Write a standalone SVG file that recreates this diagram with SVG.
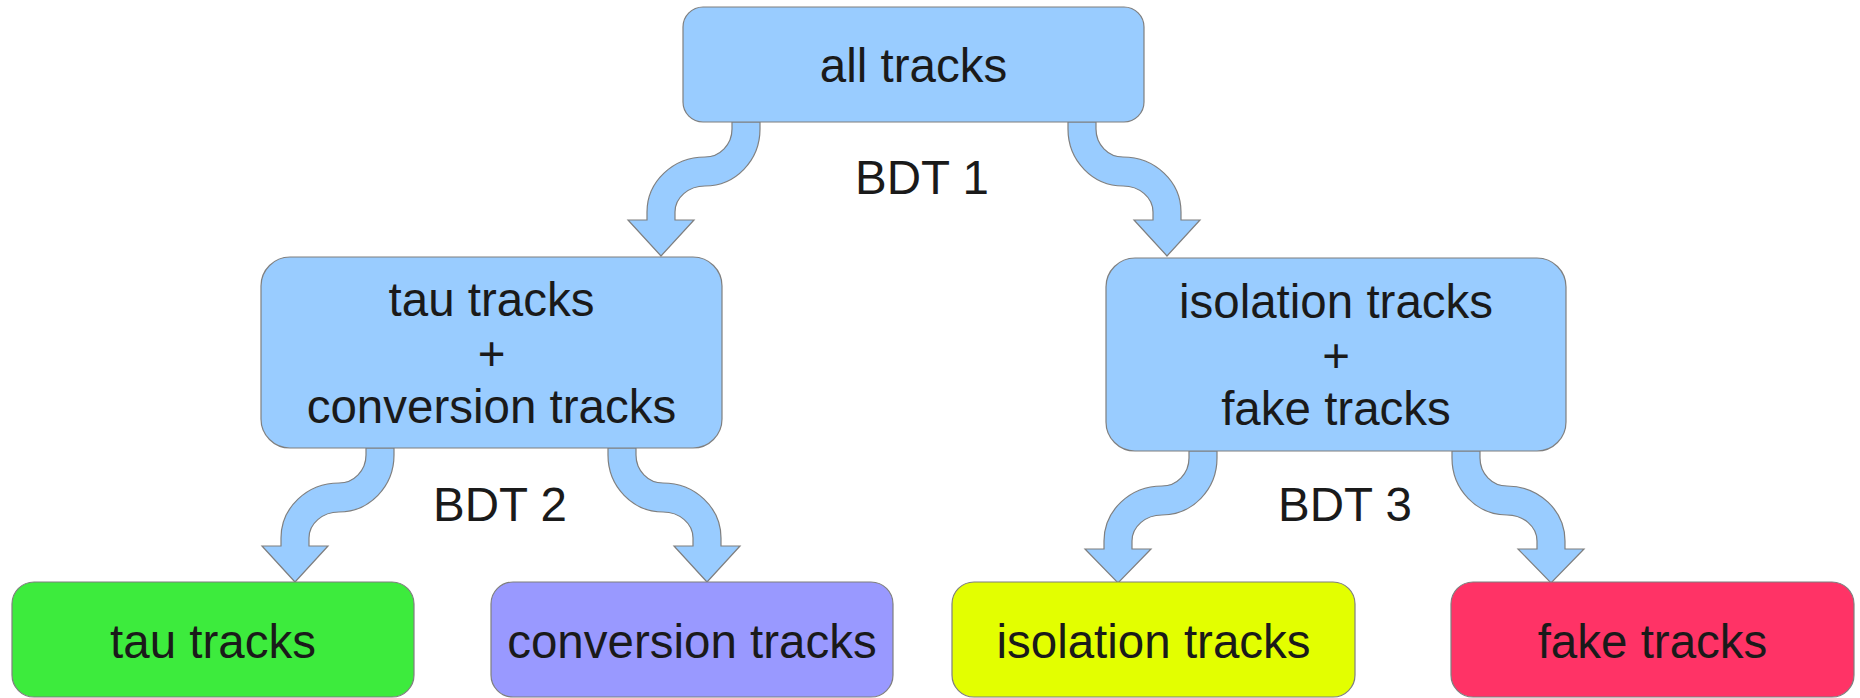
<svg xmlns="http://www.w3.org/2000/svg" width="1860" height="698" viewBox="0 0 1860 698">
  <style>
    .box { stroke: #7f7f7f; stroke-width: 1.2; }
    .blue { fill: #99ccff; }
    .green { fill: #3deb3d; }
    .violet { fill: #9999ff; }
    .yellow { fill: #e3ff00; }
    .red { fill: #ff3366; }
    .arrow { fill: #99ccff; stroke: #7f7f7f; stroke-width: 1.2; stroke-linejoin: miter; }
    text { font-family: "Liberation Sans", Arial, sans-serif; font-size: 47.5px; fill: #1a1a1a; text-anchor: middle; }
  </style>

  <rect width="1860" height="698" fill="#ffffff"/>

  <!-- S-shaped block arrows -->
  <g id="connectors">
    <!-- BDT 1 -> left -->
    <path class="arrow" d="M732,122 L732,129 A27,28 0 0 1 705,157 A58,55 0 0 0 647,212 L647,220 L628,220 L661,256 L694,220 L675,220 L675,212 A30,26 0 0 1 705,186 A55,57 0 0 0 760,129 L760,122 Z"/>
    <!-- BDT 1 -> right -->
    <path class="arrow" d="M1096,122 L1096,129 A27,28 0 0 0 1123,157 A58,55 0 0 1 1181,212 L1181,220 L1200,220 L1167,256 L1134,220 L1153,220 L1153,212 A30,26 0 0 0 1123,186 A55,57 0 0 1 1068,129 L1068,122 Z"/>
    <!-- BDT 2 -> left -->
    <path class="arrow" d="M366,448 L366,455 A27,28 0 0 1 339,483 A58,55 0 0 0 281,538 L281,546 L262,546 L295,582 L328,546 L309,546 L309,538 A30,26 0 0 1 339,512 A55,57 0 0 0 394,455 L394,448 Z"/>
    <!-- BDT 2 -> right -->
    <path class="arrow" d="M636,448 L636,455 A27,28 0 0 0 663,483 A58,55 0 0 1 721,538 L721,546 L740,546 L707,582 L674,546 L693,546 L693,538 A30,26 0 0 0 663,512 A55,57 0 0 1 608,455 L608,448 Z"/>
    <!-- BDT 3 -> left -->
    <path class="arrow" d="M1189,451 L1189,458 A27,28 0 0 1 1162,486 A58,55 0 0 0 1104,541 L1104,549 L1085,549 L1118,583 L1151,549 L1132,549 L1132,541 A30,26 0 0 1 1162,515 A55,57 0 0 0 1217,458 L1217,451 Z"/>
    <!-- BDT 3 -> right -->
    <path class="arrow" d="M1480,451 L1480,458 A27,28 0 0 0 1507,486 A58,55 0 0 1 1565,541 L1565,549 L1584,549 L1551,583 L1518,549 L1537,549 L1537,541 A30,26 0 0 0 1507,515 A55,57 0 0 1 1452,458 L1452,451 Z"/>
  </g>

  <g id="labels">
    <text x="922" y="194">BDT 1</text>
    <text x="500" y="521">BDT 2</text>
    <text x="1345" y="521">BDT 3</text>
  </g>

  <g id="all-tracks">
    <rect class="box blue" x="683" y="7" width="461" height="115" rx="20"/>
    <text x="913.5" y="82">all tracks</text>
  </g>

  <g id="tau-conversion">
    <rect class="box blue" x="261" y="257" width="461" height="191" rx="29"/>
    <text x="491.5" y="316">tau tracks</text>
    <text x="491.5" y="369.5">+</text>
    <text x="491.5" y="423">conversion tracks</text>
  </g>

  <g id="isolation-fake">
    <rect class="box blue" x="1106" y="258" width="460" height="193" rx="29"/>
    <text x="1336" y="318">isolation tracks</text>
    <text x="1336" y="371.5">+</text>
    <text x="1336" y="425">fake tracks</text>
  </g>

  <g id="tau-tracks">
    <rect class="box green" x="12" y="582" width="402" height="115" rx="22"/>
    <text x="213" y="658">tau tracks</text>
  </g>

  <g id="conversion-tracks">
    <rect class="box violet" x="491" y="582" width="402" height="115" rx="22"/>
    <text x="692" y="658">conversion tracks</text>
  </g>

  <g id="isolation-tracks">
    <rect class="box yellow" x="952" y="582" width="403" height="115" rx="22"/>
    <text x="1153.5" y="658">isolation tracks</text>
  </g>

  <g id="fake-tracks">
    <rect class="box red" x="1451" y="582" width="403" height="115" rx="22"/>
    <text x="1652.5" y="658">fake tracks</text>
  </g>
</svg>
